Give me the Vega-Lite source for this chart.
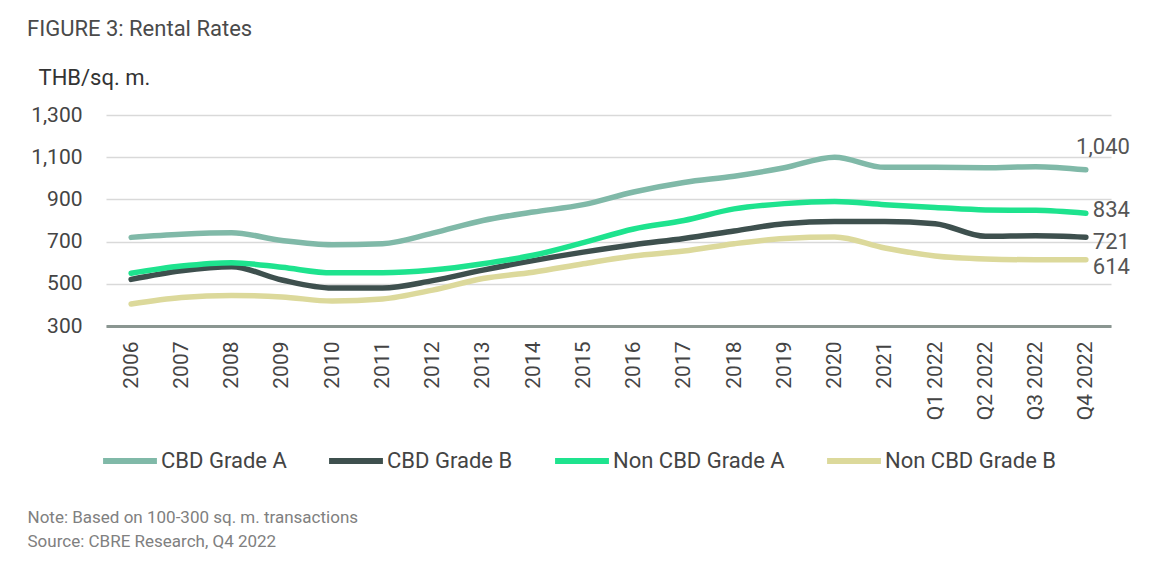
{
  "$schema": "https://vega.github.io/schema/vega-lite/v6.json",
  "width": 1005,
  "height": 211,
  "autosize": {"type": "none"},
  "padding": {"left": 106, "top": 115, "right": 47, "bottom": 237},
  "background": "white",
  "title": {
    "text": "FIGURE 3: Rental Rates",
    "anchor": "start",
    "frame": "group",
    "dx": -79,
    "dy": 12,
    "fontSize": 22,
    "fontWeight": "normal",
    "font": "Roboto",
    "color": "#4a4a4a",
    "baseline": "alphabetic",
    "offset": 20
  },
  "config": {
    "font": "Roboto",
    "view": {"stroke": null}
  },
  "data": {
    "values": [
      {"period": "2006", "series": "CBD Grade A", "value": 720},
      {"period": "2007", "series": "CBD Grade A", "value": 735},
      {"period": "2008", "series": "CBD Grade A", "value": 742},
      {"period": "2009", "series": "CBD Grade A", "value": 705},
      {"period": "2010", "series": "CBD Grade A", "value": 685},
      {"period": "2011", "series": "CBD Grade A", "value": 690},
      {"period": "2012", "series": "CBD Grade A", "value": 740},
      {"period": "2013", "series": "CBD Grade A", "value": 800},
      {"period": "2014", "series": "CBD Grade A", "value": 840},
      {"period": "2015", "series": "CBD Grade A", "value": 875},
      {"period": "2016", "series": "CBD Grade A", "value": 935},
      {"period": "2017", "series": "CBD Grade A", "value": 980},
      {"period": "2018", "series": "CBD Grade A", "value": 1010},
      {"period": "2019", "series": "CBD Grade A", "value": 1050},
      {"period": "2020", "series": "CBD Grade A", "value": 1100},
      {"period": "2021", "series": "CBD Grade A", "value": 1052},
      {"period": "Q1 2022", "series": "CBD Grade A", "value": 1052},
      {"period": "Q2 2022", "series": "CBD Grade A", "value": 1050},
      {"period": "Q3 2022", "series": "CBD Grade A", "value": 1055},
      {"period": "Q4 2022", "series": "CBD Grade A", "value": 1040},
      {"period": "2006", "series": "CBD Grade B", "value": 521},
      {"period": "2007", "series": "CBD Grade B", "value": 562},
      {"period": "2008", "series": "CBD Grade B", "value": 581},
      {"period": "2009", "series": "CBD Grade B", "value": 518},
      {"period": "2010", "series": "CBD Grade B", "value": 480},
      {"period": "2011", "series": "CBD Grade B", "value": 480},
      {"period": "2012", "series": "CBD Grade B", "value": 515},
      {"period": "2013", "series": "CBD Grade B", "value": 565},
      {"period": "2014", "series": "CBD Grade B", "value": 610},
      {"period": "2015", "series": "CBD Grade B", "value": 650},
      {"period": "2016", "series": "CBD Grade B", "value": 685},
      {"period": "2017", "series": "CBD Grade B", "value": 715},
      {"period": "2018", "series": "CBD Grade B", "value": 750},
      {"period": "2019", "series": "CBD Grade B", "value": 785},
      {"period": "2020", "series": "CBD Grade B", "value": 795},
      {"period": "2021", "series": "CBD Grade B", "value": 795},
      {"period": "Q1 2022", "series": "CBD Grade B", "value": 785},
      {"period": "Q2 2022", "series": "CBD Grade B", "value": 725},
      {"period": "Q3 2022", "series": "CBD Grade B", "value": 728},
      {"period": "Q4 2022", "series": "CBD Grade B", "value": 721},
      {"period": "2006", "series": "Non CBD Grade A", "value": 550},
      {"period": "2007", "series": "Non CBD Grade A", "value": 584},
      {"period": "2008", "series": "Non CBD Grade A", "value": 600},
      {"period": "2009", "series": "Non CBD Grade A", "value": 578},
      {"period": "2010", "series": "Non CBD Grade A", "value": 552},
      {"period": "2011", "series": "Non CBD Grade A", "value": 552},
      {"period": "2012", "series": "Non CBD Grade A", "value": 565},
      {"period": "2013", "series": "Non CBD Grade A", "value": 595},
      {"period": "2014", "series": "Non CBD Grade A", "value": 635},
      {"period": "2015", "series": "Non CBD Grade A", "value": 695},
      {"period": "2016", "series": "Non CBD Grade A", "value": 760},
      {"period": "2017", "series": "Non CBD Grade A", "value": 800},
      {"period": "2018", "series": "Non CBD Grade A", "value": 855},
      {"period": "2019", "series": "Non CBD Grade A", "value": 880},
      {"period": "2020", "series": "Non CBD Grade A", "value": 890},
      {"period": "2021", "series": "Non CBD Grade A", "value": 875},
      {"period": "Q1 2022", "series": "Non CBD Grade A", "value": 862},
      {"period": "Q2 2022", "series": "Non CBD Grade A", "value": 850},
      {"period": "Q3 2022", "series": "Non CBD Grade A", "value": 848},
      {"period": "Q4 2022", "series": "Non CBD Grade A", "value": 834},
      {"period": "2006", "series": "Non CBD Grade B", "value": 404},
      {"period": "2007", "series": "Non CBD Grade B", "value": 435},
      {"period": "2008", "series": "Non CBD Grade B", "value": 445},
      {"period": "2009", "series": "Non CBD Grade B", "value": 438},
      {"period": "2010", "series": "Non CBD Grade B", "value": 418},
      {"period": "2011", "series": "Non CBD Grade B", "value": 428},
      {"period": "2012", "series": "Non CBD Grade B", "value": 470},
      {"period": "2013", "series": "Non CBD Grade B", "value": 525},
      {"period": "2014", "series": "Non CBD Grade B", "value": 555},
      {"period": "2015", "series": "Non CBD Grade B", "value": 595},
      {"period": "2016", "series": "Non CBD Grade B", "value": 632},
      {"period": "2017", "series": "Non CBD Grade B", "value": 655},
      {"period": "2018", "series": "Non CBD Grade B", "value": 690},
      {"period": "2019", "series": "Non CBD Grade B", "value": 715},
      {"period": "2020", "series": "Non CBD Grade B", "value": 722},
      {"period": "2021", "series": "Non CBD Grade B", "value": 670},
      {"period": "Q1 2022", "series": "Non CBD Grade B", "value": 632},
      {"period": "Q2 2022", "series": "Non CBD Grade B", "value": 618},
      {"period": "Q3 2022", "series": "Non CBD Grade B", "value": 614},
      {"period": "Q4 2022", "series": "Non CBD Grade B", "value": 614}
    ]
  },
  "encoding": {
    "x": {
      "field": "period",
      "type": "ordinal",
      "sort": null,
      "scale": {"type": "point", "padding": 0.5},
      "axis": {
        "title": ["Note: Based on 100-300 sq. m. transactions", "Source: CBRE Research, Q4 2022"],
        "titleAngle": 0,
        "titleAlign": "left",
        "titleAnchor": null,
        "titleBaseline": "top",
        "titleX": -79,
        "titleY": 183,
        "titleFontSize": 17,
        "titleFontWeight": "normal",
        "titleColor": "#808080",
        "titleLineHeight": 24,
        "labelAngle": -90,
        "labelAlign": "right",
        "labelBaseline": "middle",
        "labelFontSize": 21,
        "labelColor": "#444444",
        "labelPadding": 15,
        "ticks": false,
        "grid": false,
        "domain": true,
        "domainColor": "#8a9691",
        "domainWidth": 3
      }
    },
    "y": {
      "field": "value",
      "type": "quantitative",
      "scale": {"domain": [300, 1300], "nice": false, "zero": false},
      "axis": {
        "values": [300, 500, 700, 900, 1100, 1300],
        "format": ",d",
        "title": "THB/sq. m.",
        "titleAngle": 0,
        "titleAlign": "left",
        "titleBaseline": "middle",
        "titleX": -68,
        "titleY": -38,
        "titleFontSize": 22,
        "titleFontWeight": "normal",
        "titleColor": "#333333",
        "labelFontSize": 21,
        "labelColor": "#444444",
        "labelPadding": 24,
        "ticks": false,
        "domain": false,
        "grid": true,
        "gridColor": "#d9d9d9",
        "gridWidth": 1.5
      }
    }
  },
  "layer": [
    {
      "mark": {"type": "line", "interpolate": "monotone", "strokeWidth": 5.5, "strokeCap": "round"},
      "encoding": {
        "color": {
          "field": "series",
          "type": "nominal",
          "scale": {
            "domain": ["CBD Grade A", "CBD Grade B", "Non CBD Grade A", "Non CBD Grade B"],
            "range": ["#80b9a8", "#3e504e", "#1ee38e", "#dcd99b"]
          },
          "legend": {
            "title": null,
            "orient": "none",
            "direction": "horizontal",
            "legendX": -6,
            "legendY": 316,
            "symbolType": "stroke",
            "symbolSize": 2900,
            "symbolStrokeWidth": 6,
            "labelFontSize": 22,
            "labelColor": "#444444",
            "labelOffset": 1,
            "columnPadding": 30,
            "labelLimit": 400
          }
        }
      }
    },
    {
      "transform": [{"filter": "datum.period === 'Q4 2022' && datum.series === 'CBD Grade A'"}],
      "mark": {"type": "text", "align": "right", "baseline": "middle", "dx": 44, "dy": -23, "fontSize": 22, "color": "#555555"},
      "encoding": {"text": {"field": "value", "type": "quantitative", "format": ","}}
    },
    {
      "transform": [{"filter": "datum.period === 'Q4 2022' && datum.series === 'Non CBD Grade A'"}],
      "mark": {"type": "text", "align": "right", "baseline": "middle", "dx": 44, "dy": -3, "fontSize": 22, "color": "#555555"},
      "encoding": {"text": {"field": "value", "type": "quantitative", "format": ","}}
    },
    {
      "transform": [{"filter": "datum.period === 'Q4 2022' && datum.series === 'CBD Grade B'"}],
      "mark": {"type": "text", "align": "right", "baseline": "middle", "dx": 44, "dy": 5, "fontSize": 22, "color": "#555555"},
      "encoding": {"text": {"field": "value", "type": "quantitative", "format": ","}}
    },
    {
      "transform": [{"filter": "datum.period === 'Q4 2022' && datum.series === 'Non CBD Grade B'"}],
      "mark": {"type": "text", "align": "right", "baseline": "middle", "dx": 44, "dy": 7, "fontSize": 22, "color": "#555555"},
      "encoding": {"text": {"field": "value", "type": "quantitative", "format": ","}}
    }
  ]
}
